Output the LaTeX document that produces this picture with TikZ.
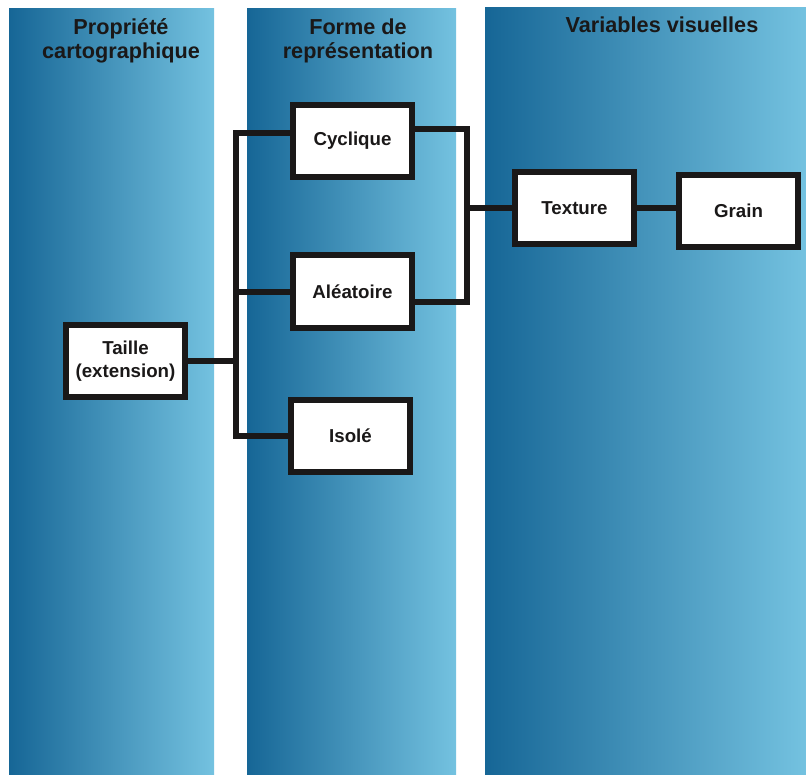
\documentclass[tikz,border=0pt]{standalone}
\usepackage{fontspec}
\setmainfont{Liberation Sans}
\usepackage{tikz}
\usetikzlibrary{positioning,calc}

\definecolor{coldark}{RGB}{22,102,150}
\definecolor{collight}{RGB}{116,194,224}
\definecolor{inkblack}{RGB}{26,24,24}

\begin{document}
\begin{tikzpicture}[
    x=0.025cm, y=-0.025cm,
    column/.style={left color=coldark, right color=collight, draw=none},
    head/.style={align=center, font=\bfseries\fontsize{15.4}{16.6}\selectfont, text=inkblack},
    box/.style={rectangle, draw=inkblack, line width=0.15cm, fill=white, minimum width=2.975cm, minimum height=1.8cm, align=center, font=\bfseries\fontsize{13.3}{16.6}\selectfont, text=inkblack, inner sep=0pt},
    link/.style={draw=inkblack, line width=0.15cm}
]

\useasboundingbox (0,0) rectangle (806,774);

% Columns
\shade[column] (9,9) rectangle (214,774);
\shade[column] (247,9) rectangle (456,774);
\shade[column] (485,8) rectangle (806,774);

% Headings
\node (h1) [head] at (121,41) {Propriété\\cartographique};
\node (h2) [head] at (358,41) {Forme de\\représentation};
\node (h3) [head, anchor=base] at (662,33) {Variables visuelles};

% Nodes
\node (taille) [box] at (125.5,361) {Taille\\(extension)};
\node (cyc) [box] at (352.5,141) {Cyclique};
\node (ale) [box] at (352.5,291.5) {Aléatoire};
\node (iso) [box] at (350.5,436) {Isolé};
\node (tex) [box] at (574.5,208) {Texture};
\node (grain) [box] at (738.5,211) {Grain};

% Branching points
\coordinate (busL) at (236,0);
\coordinate (busR) at (467,0);
\coordinate (cycL) at ([yshift=0.2cm]cyc.west);
\coordinate (cycR) at ([yshift=0.3cm]cyc.east);
\coordinate (aleR) at ([yshift=-0.26cm]ale.east);

% Connectors
\draw [link] (cycL) -| (busL |- iso.west) -- (iso.west);
\draw [link] (ale.west) -- (ale.west -| busL);
\draw [link] (taille.east) -- (taille.east -| busL);
\draw [link] (cycR) -| (busR |- aleR) -- (aleR);
\draw [link] (tex.west) -- (tex.west -| busR);
\draw [link] (tex.east) -- (tex.east -| grain.west);

\end{tikzpicture}
\end{document}
